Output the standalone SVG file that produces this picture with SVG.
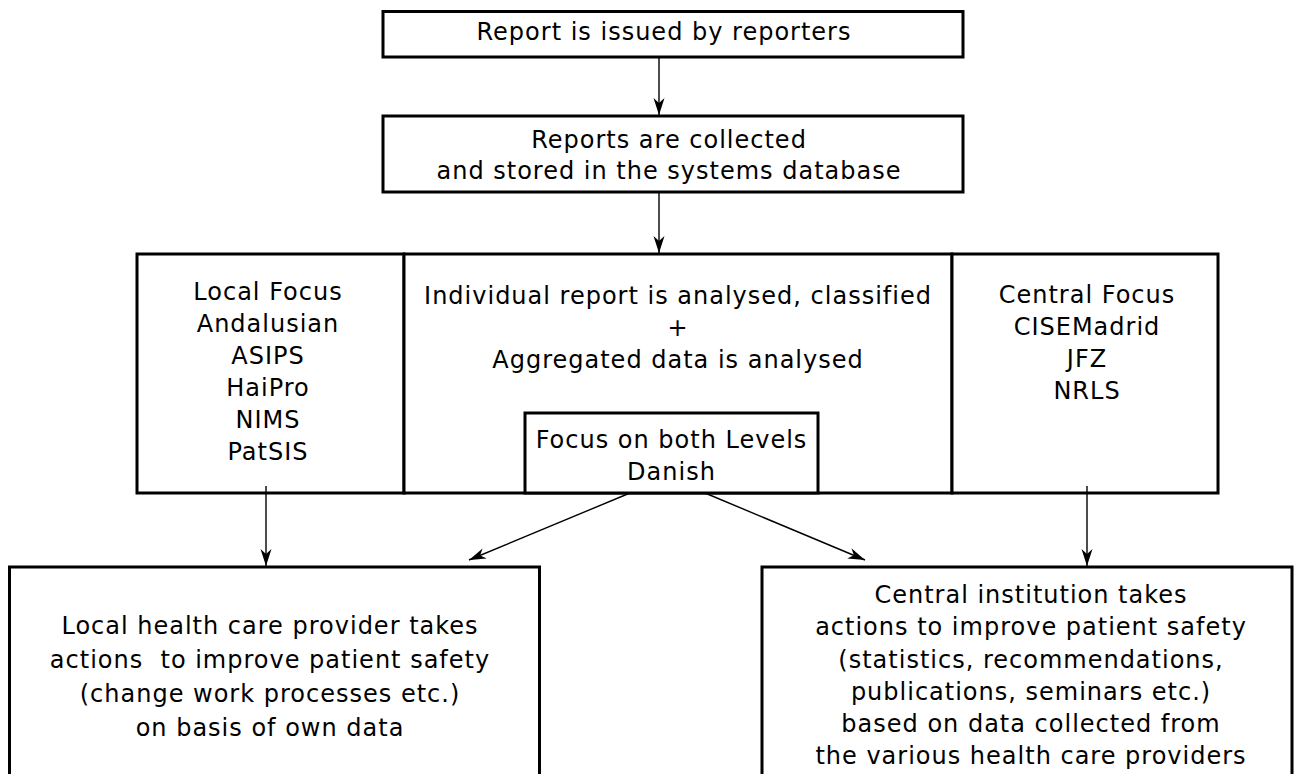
<svg xmlns="http://www.w3.org/2000/svg" width="1295" height="774" viewBox="0 0 1295 774">
<style>
.box{fill:#fff;stroke:#000;stroke-width:3}
.conn{fill:none;stroke:#000;stroke-width:1.4}
text{font-family:"DejaVu Sans","Liberation Sans",sans-serif;font-size:24px;letter-spacing:1px;fill:#000;text-anchor:middle}
</style>
<defs>
<marker id="ah" markerUnits="userSpaceOnUse" markerWidth="20" markerHeight="14" viewBox="-18 -7 20 14" refX="0" refY="0" orient="auto">
<path d="M0,0 L-17,-5.5 L-12,0 L-17,5.5 Z" fill="#000"/>
</marker>
</defs>
<rect width="1295" height="774" fill="#fff"/>
<g id="n1">
<rect class="box" x="383" y="11.5" width="580" height="45.5"/>
<text x="664" y="40">Report is issued by reporters</text>
</g>
<g id="n2">
<rect class="box" x="383" y="116" width="580" height="76"/>
<text x="669" y="148">Reports are collected</text>
<text x="669" y="179">and stored in the systems database</text>
</g>
<g id="n3">
<rect class="box" x="137" y="254" width="267" height="239"/>
<text x="268" y="300">Local Focus</text>
<text x="268" y="332">Andalusian</text>
<text x="268" y="364">ASIPS</text>
<text x="268" y="396">HaiPro</text>
<text x="268" y="428">NIMS</text>
<text x="268" y="460">PatSIS</text>
</g>
<g id="n4">
<rect class="box" x="404" y="254" width="548" height="239"/>
<text x="678" y="304">Individual report is analysed, classified</text>
<text x="678" y="336">+</text>
<text x="678" y="368">Aggregated data is analysed</text>
</g>
<g id="n5">
<rect class="box" x="952" y="254" width="266" height="239"/>
<text x="1087" y="303">Central Focus</text>
<text x="1087" y="335">CISEMadrid</text>
<text x="1087" y="367">JFZ</text>
<text x="1087" y="399">NRLS</text>
</g>
<g id="n6">
<rect class="box" x="525" y="413" width="293" height="80"/>
<text x="671.5" y="448">Focus on both Levels</text>
<text x="671.5" y="480">Danish</text>
</g>
<g id="n7">
<rect class="box" x="9.5" y="567" width="530" height="240"/>
<text x="270" y="634" xml:space="preserve">Local health care provider takes</text>
<text x="270" y="668" xml:space="preserve">actions  to improve patient safety</text>
<text x="270" y="702">(change work processes etc.)</text>
<text x="270" y="736">on basis of own data</text>
</g>
<g id="n8">
<rect class="box" x="762" y="567" width="530" height="240"/>
<text x="1031" y="603">Central institution takes</text>
<text x="1031" y="635">actions to improve patient safety</text>
<text x="1031" y="668">(statistics, recommendations,</text>
<text x="1031" y="700">publications, seminars etc.)</text>
<text x="1031" y="732">based on data collected from</text>
<text x="1031" y="764">the various health care providers</text>
</g>
<g id="connectors">
<line class="conn" x1="659" y1="57" x2="659" y2="115" marker-end="url(#ah)"/>
<line class="conn" x1="659" y1="192" x2="659" y2="253" marker-end="url(#ah)"/>
<line class="conn" x1="266" y1="486" x2="266" y2="566" marker-end="url(#ah)"/>
<line class="conn" x1="1087" y1="486" x2="1087" y2="566" marker-end="url(#ah)"/>
<line class="conn" x1="630" y1="493" x2="469" y2="560" marker-end="url(#ah)"/>
<line class="conn" x1="705" y1="493" x2="865" y2="560" marker-end="url(#ah)"/>
</g>
</svg>
